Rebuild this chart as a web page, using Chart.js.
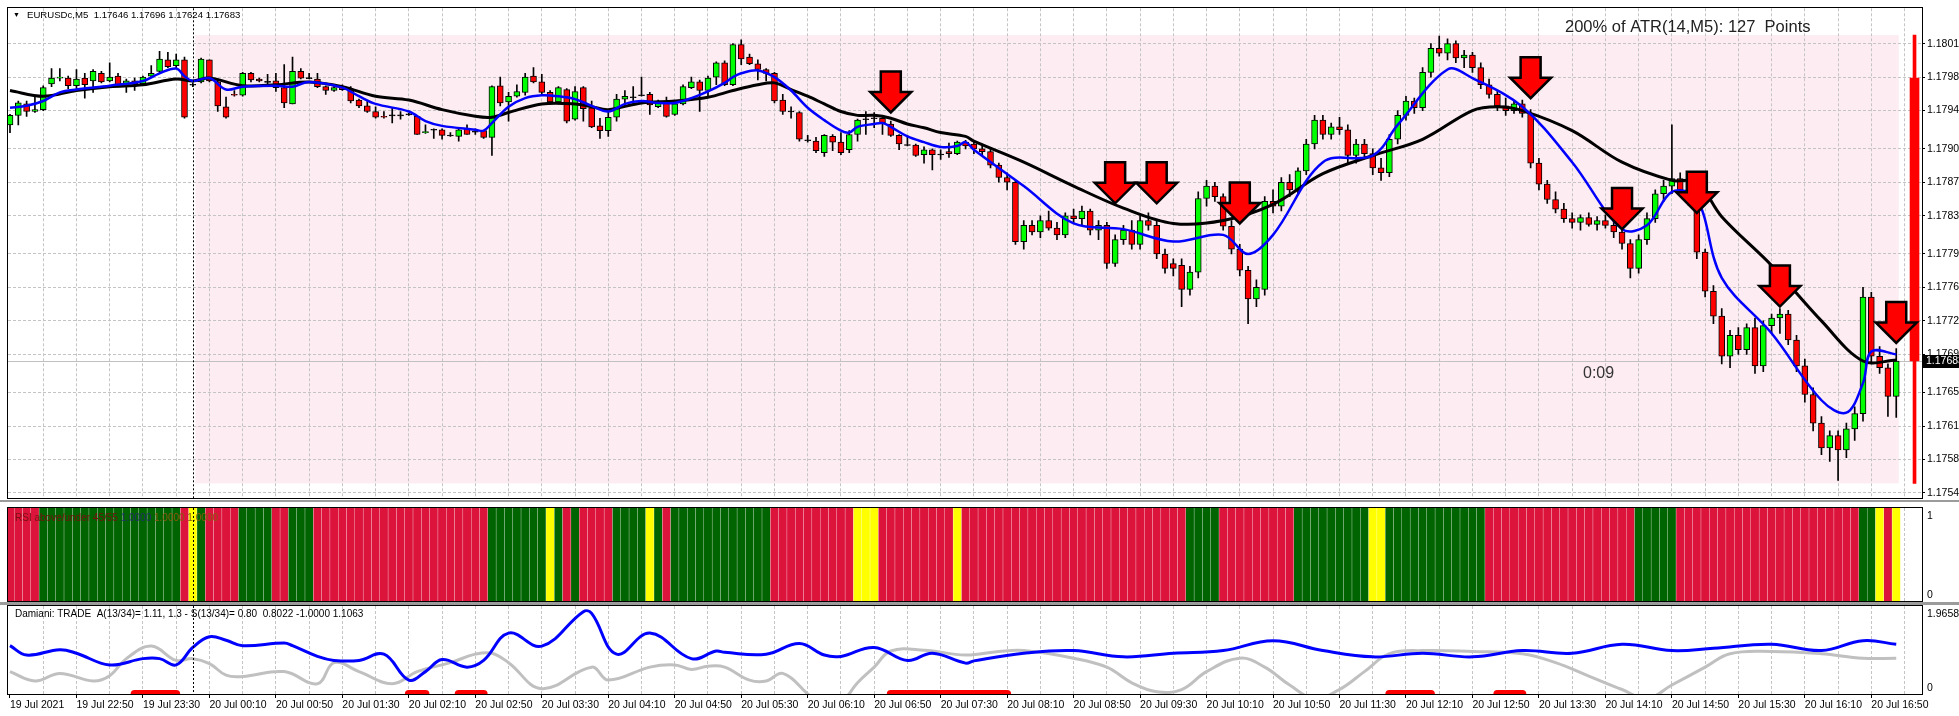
<!DOCTYPE html>
<html>
<head>
<meta charset="utf-8">
<script src="https://cdn.jsdelivr.net/npm/chart.js@4.4.1/dist/chart.umd.min.js"></script>
<style>
  html, body { margin: 0; padding: 0; background: #fff; overflow: hidden; }
  #wrap { position: relative; width: 1959px; height: 716px; }
  canvas { position: absolute; left: 0; }
  #main { top: 0; }
  #rsi { top: 507px; }
  #dam { top: 605px; }
</style>
</head>
<body>
<div id="wrap">
  <canvas id="main" width="1959" height="507"></canvas>
  <canvas id="rsi" width="1959" height="98"></canvas>
  <canvas id="dam" width="1959" height="111"></canvas>
</div>
<script>
// ============ EURUSDc M5 — candles, MAs, RSI zones, Damiani ============
// prices are in points (1 point = 0.00001)
const SYMBOL = 'EURUSDc,M5';
const PRICE_TICKS = [1.18015, 1.17980, 1.17945, 1.17905, 1.17870, 1.17835, 1.17795, 1.17760, 1.17725, 1.17690, 1.17650, 1.17615, 1.17580, 1.17545];
const TIME_LABELS = ['19 Jul 2021', '19 Jul 22:50', '19 Jul 23:30', '20 Jul 00:10', '20 Jul 00:50', '20 Jul 01:30', '20 Jul 02:10',
  '20 Jul 02:50', '20 Jul 03:30', '20 Jul 04:10', '20 Jul 04:50', '20 Jul 05:30', '20 Jul 06:10', '20 Jul 06:50', '20 Jul 07:30',
  '20 Jul 08:10', '20 Jul 08:50', '20 Jul 09:30', '20 Jul 10:10', '20 Jul 10:50', '20 Jul 11:30', '20 Jul 12:10', '20 Jul 12:50',
  '20 Jul 13:30', '20 Jul 14:10', '20 Jul 14:50', '20 Jul 15:30', '20 Jul 16:10', '20 Jul 16:50'];

const opens = [
  117930,117940,117952,117944,117946,117973,117979,117979,117971,117979,
  117976,117984,117976,117981,117972,117976,117973,117981,117986,117998,
  117992,117998,117972,117975,117998,117975,117949,117962,117961,117984,
  117978,117975,117976,117969,117952,117986,117979,117978,117970,117966,
  117970,117967,117956,117950,117944,117939,117940,117940,117941,117939,
  117922,117925,117925,117919,117918,117926,117923,117924,117917,117971,
  117954,117960,117964,117981,117975,117964,117954,117967,117936,117969,
  117948,117929,117924,117938,117957,117959,117961,117962,117949,117953,
  117941,117952,117969,117975,117966,117980,117995,117972,118014,118001,
  117994,117988,117984,117956,117944,117943,117914,117913,117901,117918,
  117912,117904,117920,117936,117937,117937,117931,117919,117909,117909,
  117899,117904,117899,117902,117900,117912,117910,117905,117902,117888,
  117875,117870,117808,117825,117818,117830,117822,117815,117835,117832,
  117840,117820,117825,117785,117810,117820,117805,117830,117825,117795,
  117785,117783,117758,117776,117853,117866,117855,117824,117800,117778,
  117748,117758,117850,117845,117870,117862,117882,117910,117935,117920,
  117928,117925,117898,117910,117900,117885,117880,117915,117940,117955,
  117948,117985,118010,118005,118015,118000,118003,117990,117972,117962,
  117950,117945,117952,117942,117890,117868,117852,117842,117832,117828,
  117833,117826,117830,117825,117818,117806,117780,117810,117832,117858,
  117866,117874,117862,117850,117797,117756,117730,117688,117710,117695,
  117718,117678,117720,117728,117732,117705,117678,117648,117618,117592,
  117605,117590,117612,117628,117750,117688,117676,117646];
const highs = [
  117941,117955,117955,117960,117971,117989,117989,117981,117988,117984,
  117988,117986,117995,117984,117978,117979,117981,117992,118007,118006,
  118004,118001,117974,118000,117998,117976,117959,117966,117985,117985,
  117979,117983,117984,117993,118001,117989,117984,117984,117971,117970,
  117972,117970,117957,117955,117949,117944,117948,117944,117942,117940,
  117930,117926,117926,117922,117926,117930,117926,117924,117971,117980,
  117964,117972,117984,117990,117983,117966,117970,117968,117970,117970,
  117955,117937,117944,117962,117966,117970,117980,117964,117956,117959,
  117955,117972,117980,117977,117981,117996,117997,118015,118019,118004,
  117998,117989,117985,117962,117949,117944,117919,117917,117920,117920,
  117922,117924,117936,117944,117943,117938,117934,117920,117919,117910,
  117907,117905,117904,117911,117913,117914,117912,117910,117905,117890,
  117880,117872,117830,117830,117835,117840,117828,117838,117842,117845,
  117842,117830,117828,117815,117825,117830,117835,117838,117830,117800,
  117790,117790,117782,117860,117872,117870,117858,117830,117805,117782,
  117768,117855,117862,117875,117878,117885,117915,117940,117940,117932,
  117938,117930,117915,117915,117905,117895,117920,117945,117960,117958,
  117990,118015,118023,118020,118018,118008,118006,117995,117978,117966,
  117958,117955,117956,117946,117895,117872,117860,117848,117838,117836,
  117838,117834,117836,117830,117822,117810,117815,117838,117862,117872,
  117930,117880,117868,117855,117800,117762,117738,117715,117718,117722,
  117728,117725,117732,117738,117736,117710,117685,117655,117625,117610,
  117610,117618,117635,117760,117755,117698,117680,117696];
const lows = [
  117922,117930,117939,117943,117945,117970,117976,117968,117968,117958,
  117964,117974,117975,117971,117964,117966,117971,117980,117984,117990,
  117989,117937,117970,117974,117975,117944,117937,117960,117960,117975,
  117975,117972,117965,117948,117952,117978,117978,117969,117962,117965,
  117966,117953,117948,117943,117937,117937,117932,117936,117940,117920,
  117921,117916,117915,117918,117913,117920,117920,117916,117898,117950,
  117934,117959,117961,117974,117962,117952,117952,117932,117935,117934,
  117927,117916,117918,117934,117950,117952,117960,117941,117948,117938,
  117940,117951,117968,117944,117959,117972,117971,117971,117993,117993,
  117977,117976,117953,117941,117937,117913,117912,117901,117897,117903,
  117899,117901,117913,117920,117927,117920,117918,117904,117908,117897,
  117890,117883,117894,117896,117899,117905,117900,117898,117885,117870,
  117862,117805,117800,117815,117812,117820,117810,117812,117828,117825,
  117815,117810,117780,117782,117805,117800,117800,117820,117790,117775,
  117772,117740,117752,117770,117845,117850,117820,117795,117772,117722,
  117740,117752,117838,117840,117855,117858,117878,117905,117915,117915,
  117920,117890,117890,117895,117878,117872,117876,117910,117935,117942,
  117945,117980,118002,117998,117995,117990,117985,117968,117958,117945,
  117940,117942,117938,117885,117862,117848,117838,117828,117822,117820,
  117824,117820,117822,117812,117800,117770,117775,117805,117828,117850,
  117858,117858,117846,117790,117750,117722,117680,117676,117690,117690,
  117670,117672,117712,117712,117700,117672,117640,117610,117585,117578,
  117558,117582,117600,117620,117680,117670,117625,117624];
const closes = [
  117940,117953,117944,117946,117969,117979,117980,117971,117978,117972,
  117986,117975,117980,117972,117976,117973,117980,117984,117999,117991,
  117998,117938,117972,117999,117976,117950,117938,117961,117984,117977,
  117976,117975,117969,117953,117986,117979,117979,117970,117966,117969,
  117967,117955,117950,117944,117938,117938,117940,117940,117941,117920,
  117923,117925,117919,117919,117925,117920,117923,117917,117970,117953,
  117960,117965,117980,117975,117964,117954,117969,117934,117965,117947,
  117928,117924,117938,117957,117960,117959,117961,117951,117955,117939,
  117952,117970,117975,117966,117979,117995,117972,118014,117999,117994,
  117988,117984,117955,117944,117944,117915,117914,117903,117919,117912,
  117901,117920,117935,117936,117937,117932,117919,117910,117909,117898,
  117904,117899,117899,117900,117912,117908,117905,117902,117888,117875,
  117870,117808,117825,117818,117830,117822,117815,117835,117832,117840,
  117820,117825,117785,117810,117820,117805,117830,117825,117795,117780,
  117780,117758,117776,117853,117866,117855,117824,117800,117778,117748,
  117760,117850,117845,117870,117862,117882,117910,117935,117920,117928,
  117925,117898,117910,117900,117885,117880,117915,117940,117955,117948,
  117985,118010,118005,118015,118000,118003,117990,117972,117962,117950,
  117945,117952,117942,117890,117868,117852,117842,117832,117828,117833,
  117826,117830,117825,117818,117806,117780,117810,117832,117858,117866,
  117874,117862,117850,117797,117756,117730,117688,117710,117695,117718,
  117678,117720,117728,117732,117705,117678,117648,117618,117592,117605,
  117590,117612,117628,117750,117688,117676,117646,117683];

// moving averages (bar index -> price in points)
const slowMaBars = [0,4,8,12,16,20,22,24,28,32,36,40,44,48,52,56,58,60,64,68,70,72,76,80,84,87,90,92,94,96,98,100,102,104,106,108,110,112,115,
  116,122,128,134,140,146,152,158,164,170,176,179,182,188,194,200,203,206,212,218,223,227];
const slowMa = [117966,117960,117966,117970,117972,117978,117976,117979,117971,117972,117975,117970,117960,117956,117946,117939,117938,117943,117952,117952,117949,117946,117953,117955,117959,117966,117972,117974,117967,117960,117952,117944,117940,117940,117937,117931,117927,117922,117918,
  117913,117891,117866,117843,117827,117830,117847,117879,117898,117915,117945,117949,117945,117924,117891,117872,117870,117834,117783,117725,117683,117684];
const fastMaBars = [0,2,4,6,8,12,16,18,20,21,22,24,26,28,32,34,36,40,42,44,48,50,52,56,57,58,60,62,64,66,68,70,72,74,76,78,80,82,84,86,87,88,90,92,94,96,98,100,101,102,104,105,106,108,110,112,114,115,
  116,122,128,134,140,146,149,152,158,164,167,173,176,182,188,194,197,200,203,206,212,218,221,223,224,227];
const fastMa = [117948,117950,117955,117964,117967,117971,117976,117984,117989,117981,117976,117979,117967,117970,117971,117970,117975,117969,117960,117952,117944,117934,117929,117925,117924,117932,117949,117958,117961,117960,117957,117950,117944,117952,117955,117953,117953,117958,117965,117974,117980,117984,117987,117980,117966,117948,117935,117924,117922,117928,117931,117932,117928,117918,117912,117907,117908,117912,
  117904,117866,117827,117821,117808,117815,117795,117815,117891,117898,117930,117988,117979,117949,117891,117821,117825,117860,117853,117770,117712,117642,117629,117660,117693,117690];

// sell arrows: bar index and tip price
const arrowBars = [106, 133, 138, 148, 183, 194, 203, 213, 227];
const arrowTips = [1.17943, 1.17848, 1.17848, 1.17827, 1.17958, 1.17821, 1.17838, 1.17740, 1.17702];

// ATR box / range bar
const ATR_TEXT = '200% of ATR(14,M5): 127  Points';
const ATR_HIGH = 1.18024, ATR_LOW = 1.17555;
const ATR_BODY_HIGH = 1.17979, ATR_BODY_LOW = 1.17683;
const BOX_FROM = 22.3, BOX_TO = 227.3, ATR_BAR = 229.2;
const DAY_START_BAR = 22;
const TIMER_TEXT = '0:09';

// RSI above/under 45/55 zones per bar: R = under, G = above, Y = neutral
const rsiZones = ('RRRRGGGGGG' + 'GGGGGGGGGG' + 'GRYGRRRRGG' + 'GGRRGGGRRR' + 'RRRRRRRRRR' +
  'RRRRRRRRGG' + 'GGGGGYGRGR' + 'RRRGGGGYGR' + 'GGGGGGGGGG' + 'GGRRRRRRRR' +
  'RRYYYRRRRR' + 'RRRRYRRRRR' + 'RRRRRRRRRR' + 'RRRRRRRRRR' + 'RRGGGGRRRR' +
  'RRRRRGGGGG' + 'GGGGYYGGGG' + 'GGGGGGGGRR' + 'RRRRRRRRRR' + 'RRRRRRGGGG' +
  'GRRRRRRRRR' + 'RRRRRRRRRR' + 'RRRGGYRY').split('');

// Damiani volatmeter lines (bar index -> value)
const damBlueBars = [0,2,6,8,12,16,18,20,22,24,26,28,33,34,37,39,42,45,48,50,52,55,57,60,64,69,70,73,77,82,85,86,91,95,98,100,104,108,111,115,
  116,122,128,134,140,146,152,158,164,170,176,182,188,194,200,205,212,218,223,227];
const damBlue = [1.08,0.87,0.99,0.91,0.65,0.79,0.79,0.65,1.04,1.28,1.20,1.08,1.14,1.08,0.84,0.75,0.75,0.89,0.31,0.50,0.77,0.60,0.75,1.36,1.07,1.84,1.80,0.89,1.36,0.79,0.96,0.93,0.89,1.13,0.87,0.84,1.04,0.75,0.91,0.69,
  0.74,0.91,0.97,0.83,0.91,0.97,1.19,0.97,0.83,0.91,0.83,0.97,0.91,1.11,0.97,1.02,1.11,0.97,1.19,1.11];
const damGreyBars = [0,3,6,10,12,14,17,20,22,24,26,28,33,37,39,42,46,49,53,56,58,60,64,70,72,77,80,82,84,86,89,91,93,96,98,100,102,104,106,110,115,
  119,122,128,132,135,138,141,144,148,151,154,157,160,163,166,170,176,182,186,190,194,197,200,204,207,212,218,223,227];
const damGrey = [0.50,0.29,0.46,0.29,0.41,0.79,1.07,0.75,0.79,0.68,0.42,0.39,0.50,0.23,0.70,0.50,0.23,0.50,0.70,0.89,0.91,0.70,0.12,0.60,0.31,0.60,0.65,0.55,0.62,0.60,0.31,0.29,0.46,0.00,-0.35,-0.20,0.25,0.60,0.96,0.98,0.87,
  0.95,0.97,0.80,0.60,0.25,0.05,0.10,0.50,0.80,0.60,0.20,-0.10,0.10,0.50,0.90,0.97,0.95,0.90,0.70,0.40,0.10,-0.10,0.20,0.60,0.90,0.95,0.90,0.80,0.80];
const damMax = 1.9658;
const signalFrom = [15, 48, 54, 106, 166, 179];
const signalTo = [20, 50, 57, 120, 171, 182];

// ---------------------------------------------------------------------
const FONT = 'Liberation Sans';
const GRID = '#c4c4c4';
const X_MIN = -0.24, X_MAX = 230.1;
const toPrice = p => p / 100000;
const bars = opens.map((_, i) => i);
const last = opens.length - 1;

const zoneColor = { R: '#dc143c', G: '#006400', Y: '#ffff00' };

function gridTicks(scale) {
  const t = [];
  for (let v = 0; v <= X_MAX; v += 4) t.push({ value: v });
  scale.ticks = t;
}
const gridColor = c => (c.tick && c.tick.value === 0 ? 'rgba(0,0,0,0)' : GRID);

function hiddenX() {
  return {
    type: 'linear', min: X_MIN, max: X_MAX, offset: false,
    afterBuildTicks: gridTicks,
    ticks: { display: false },
    grid: { color: gridColor, drawTicks: false, offset: false },
    border: { display: false, dash: [3, 2] },
    afterFit: s => { s.height = 0; }
  };
}

const framePlugin = {
  id: 'frame',
  afterDraw(chart, args, opts) {
    const { ctx, chartArea: a } = chart;
    ctx.save();
    if (opts.sep) {
      ctx.fillStyle = '#9b9b9b';
      ctx.fillRect(0, Math.round(a.bottom) + 1, chart.width, opts.sep);
    }
    ctx.strokeStyle = '#000';
    ctx.lineWidth = 1;
    ctx.strokeRect(Math.round(a.left) - 0.5, Math.round(a.top) - 0.5,
      Math.round(a.right - a.left) + 1, Math.round(a.bottom - a.top) + 1);
    ctx.restore();
  }
};

const daySepPlugin = {
  id: 'daySep',
  afterDatasetsDraw(chart) {
    const { ctx, chartArea: a } = chart;
    const x = Math.round(chart.scales.x.getPixelForValue(DAY_START_BAR)) + 0.5;
    ctx.save();
    ctx.strokeStyle = '#000';
    ctx.lineWidth = 1;
    ctx.setLineDash([2, 2]);
    ctx.beginPath();
    ctx.moveTo(x, a.top);
    ctx.lineTo(x, a.bottom);
    ctx.stroke();
    ctx.restore();
  }
};

const sideLabelPlugin = {
  id: 'sideLabels',
  afterDraw(chart, args, opts) {
    const { ctx, chartArea: a } = chart;
    ctx.save();
    ctx.font = '10.5px ' + FONT;
    ctx.fillStyle = '#000';
    ctx.textBaseline = 'middle';
    ctx.fillText(opts.top, a.right + 5, a.top + 8);
    ctx.fillText(opts.bottom, a.right + 5, a.bottom - 6);
    // panel caption
    let x = a.left + 7;
    opts.caption.forEach(([txt, col]) => {
      ctx.font = opts.captionFont;
      ctx.fillStyle = col;
      ctx.fillText(txt, x, a.top + opts.captionY);
      x += ctx.measureText(txt).width;
    });
    ctx.restore();
  }
};

// ============ MAIN PRICE PANEL ============
const wickData = bars.map(i => ({ x: i, y: [toPrice(lows[i]), toPrice(highs[i])] }));
const bodyData = bars.map(i => {
  let a = Math.min(opens[i], closes[i]), b = Math.max(opens[i], closes[i]);
  if (b - a < 1) { a -= 0.5; b += 0.5; }
  return { x: i, y: [toPrice(a), toPrice(b)] };
});
const bodyColors = bars.map(i => closes[i] > opens[i] ? '#00ff00' : closes[i] < opens[i] ? '#ff0000' : '#000');

const mainOverlay = {
  id: 'mainOverlay',
  beforeDraw(chart) {
    const { ctx } = chart;
    const xs = chart.scales.x, ys = chart.scales.y;
    ctx.save();
    ctx.fillStyle = '#fdedf2';
    const x1 = xs.getPixelForValue(BOX_FROM), x2 = xs.getPixelForValue(BOX_TO);
    const y1 = ys.getPixelForValue(ATR_HIGH), y2 = ys.getPixelForValue(ATR_LOW);
    ctx.fillRect(x1, y1, x2 - x1, y2 - y1);
    ctx.restore();
  },
  beforeDatasetsDraw(chart) {
    const { ctx, chartArea: a } = chart;
    const y = Math.round(chart.scales.y.getPixelForValue(toPrice(closes[last]))) + 0.5;
    ctx.save();
    ctx.strokeStyle = '#c0c0c0';
    ctx.lineWidth = 1;
    ctx.beginPath();
    ctx.moveTo(a.left, y);
    ctx.lineTo(a.right, y);
    ctx.stroke();
    ctx.restore();
  },
  afterDatasetsDraw(chart) {
    const { ctx } = chart;
    const xs = chart.scales.x, ys = chart.scales.y;
    ctx.save();
    arrowBars.forEach((b, k) => {
      const x = xs.getPixelForValue(b), yt = ys.getPixelForValue(arrowTips[k]);
      const hw = 20.5, sw = 10, hh = 20.5, sh = 20.5;
      ctx.beginPath();
      ctx.moveTo(x - sw, yt - hh - sh);
      ctx.lineTo(x + sw, yt - hh - sh);
      ctx.lineTo(x + sw, yt - hh);
      ctx.lineTo(x + hw, yt - hh);
      ctx.lineTo(x, yt);
      ctx.lineTo(x - hw, yt - hh);
      ctx.lineTo(x - sw, yt - hh);
      ctx.closePath();
      ctx.fillStyle = '#ff0000';
      ctx.fill();
      ctx.lineWidth = 2.5;
      ctx.lineJoin = 'miter';
      ctx.strokeStyle = '#000';
      ctx.stroke();
    });
    ctx.restore();
  },
  afterDraw(chart) {
    const { ctx, chartArea: a } = chart;
    const ys = chart.scales.y;
    ctx.save();
    // header line
    ctx.fillStyle = '#000';
    ctx.textBaseline = 'middle';
    ctx.font = '7px ' + FONT;
    ctx.fillText('\u25BC', a.left + 5, 15);
    ctx.font = '9.6px ' + FONT;
    const ohlc = [opens[last], highs[last], lows[last], closes[last]].map(v => toPrice(v).toFixed(5)).join(' ');
    ctx.fillText(SYMBOL + '  ' + ohlc, a.left + 19, 15);
    // ATR text
    ctx.font = '16.5px ' + FONT;
    ctx.fillStyle = '#222';
    ctx.fillText(ATR_TEXT, 1565, 27);
    // candle timer
    ctx.font = '16px ' + FONT;
    ctx.fillStyle = '#333';
    ctx.fillText(TIMER_TEXT, 1583, 374);
    // bid label box
    const y = Math.round(ys.getPixelForValue(toPrice(closes[last])));
    ctx.fillStyle = '#000';
    ctx.fillRect(a.right + 1, y - 6, chart.width - a.right, 13);
    ctx.fillStyle = '#fff';
    ctx.font = '10.5px ' + FONT;
    ctx.fillText(toPrice(closes[last]).toFixed(5), a.right + 4, y + 0.5);
    ctx.restore();
  }
};

new Chart(document.getElementById('main'), {
  type: 'bar',
  data: {
    datasets: [
      { type: 'line', data: fastMaBars.map((b, k) => ({ x: b, y: toPrice(fastMa[k]) })),
        borderColor: '#0000ff', borderWidth: 2.5, pointRadius: 0, tension: 0.35, order: 0 },
      { type: 'line', data: slowMaBars.map((b, k) => ({ x: b, y: toPrice(slowMa[k]) })),
        borderColor: '#000', borderWidth: 3, pointRadius: 0, tension: 0.35, order: 1 },
      { data: bodyData, backgroundColor: bodyColors, borderColor: '#000', borderWidth: 1, borderSkipped: false,
        barThickness: 6, grouped: false, order: 2 },
      { data: wickData, backgroundColor: '#000', barThickness: 1, grouped: false, order: 3 },
      { data: [{ x: ATR_BAR, y: [ATR_BODY_LOW, ATR_BODY_HIGH] }], backgroundColor: '#ff0000', barThickness: 9, grouped: false, order: 4 },
      { data: [{ x: ATR_BAR, y: [ATR_LOW, ATR_HIGH] }], backgroundColor: '#ff0000', barThickness: 3, grouped: false, order: 5 }
    ]
  },
  options: {
    responsive: false, animation: false, events: [],
    layout: { padding: { left: 8, top: 6, right: 0, bottom: 2 } },
    plugins: { legend: { display: false }, tooltip: { enabled: false }, frame: { sep: 2 } },
    scales: {
      x: hiddenX(),
      y: {
        position: 'right', min: 1.17539, max: 1.18052,
        afterBuildTicks: s => { s.ticks = PRICE_TICKS.map(v => ({ value: v })); },
        ticks: { callback: v => v.toFixed(5), padding: 2, color: '#000', font: { family: FONT, size: 10.5 }, autoSkip: false },
        grid: { color: GRID, tickLength: 3, tickColor: '#000' },
        border: { display: false, dash: [3, 2] },
        afterFit: s => { s.width = 37; }
      }
    }
  },
  plugins: [mainOverlay, daySepPlugin, framePlugin]
});

// ============ RSI ZONE PANEL ============
new Chart(document.getElementById('rsi'), {
  type: 'bar',
  data: {
    datasets: [{
      data: bars.map(i => ({ x: i, y: [0, 1] })),
      backgroundColor: rsiZones.map(z => zoneColor[z]),
      barThickness: 7.3, grouped: false
    }]
  },
  options: {
    responsive: false, animation: false, events: [],
    layout: { padding: { left: 8, top: 1, right: 0, bottom: 4 } },
    plugins: {
      legend: { display: false }, tooltip: { enabled: false },
      frame: { sep: 3 },
      sideLabels: {
        top: '1', bottom: '0', captionY: 10, captionFont: '10px ' + FONT,
        caption: [['RSI above/under 45/55 ', '#7a1010'], ['1.0000 ', '#25306a'], ['1.0000 ', '#8a5a10'], ['1.0000', '#8a5a10']]
      }
    },
    scales: {
      x: hiddenX(),
      y: {
        position: 'right', min: 0, max: 1,
        ticks: { display: false }, grid: { display: false }, border: { display: false },
        afterFit: s => { s.width = 37; }
      }
    }
  },
  plugins: [daySepPlugin, framePlugin, sideLabelPlugin]
});

// ============ DAMIANI PANEL ============
const signalData = [];
signalFrom.forEach((s, k) => {
  signalData.push({ x: s, y: 0 }, { x: signalTo[k], y: 0 }, { x: signalTo[k] + 0.5, y: null });
});

new Chart(document.getElementById('dam'), {
  type: 'line',
  data: {
    datasets: [
      { data: damBlueBars.map((b, k) => ({ x: b, y: damBlue[k] })), borderColor: '#0000ff', borderWidth: 3,
        pointRadius: 0, tension: 0.4, order: 0 },
      { data: damGreyBars.map((b, k) => ({ x: b, y: damGrey[k] })), borderColor: '#c0c0c0', borderWidth: 3,
        pointRadius: 0, tension: 0.4, order: 1 },
      { data: signalData, borderColor: '#ff0000', borderWidth: 8, borderCapStyle: 'round', pointRadius: 0,
        spanGaps: false, order: 2 }
    ]
  },
  options: {
    responsive: false, animation: false, events: [],
    layout: { padding: { left: 8, top: 1, right: 0, bottom: 0 } },
    plugins: {
      legend: { display: false }, tooltip: { enabled: false },
      sideLabels: {
        top: '1.9658', bottom: '0', captionY: 8, captionFont: '10px ' + FONT,
        caption: [['Damiani: TRADE  A(13/34)= 1.11, 1.3 - S(13/34)= 0.80  0.8022 -1.0000 1.1063', '#000']]
      }
    },
    scales: {
      x: {
        type: 'linear', min: X_MIN, max: X_MAX, offset: false,
        afterBuildTicks: gridTicks,
        ticks: {
          autoSkip: false, maxRotation: 0, align: 'start', padding: 1, color: '#000',
          font: { family: FONT, size: 10.5 },
          callback: v => (v % 8 === 0 ? TIME_LABELS[v / 8] : '')
        },
        grid: { color: gridColor, tickLength: 4, tickColor: c => (c.tick && c.tick.value % 8 === 0 ? '#000' : 'rgba(0,0,0,0)') },
        border: { display: false, dash: [3, 2] },
        afterFit: s => { s.height = 22; }
      },
      y: {
        position: 'right', min: 0, max: damMax,
        ticks: { display: false }, grid: { display: false }, border: { display: false },
        afterFit: s => { s.width = 37; }
      }
    }
  },
  plugins: [daySepPlugin, framePlugin, sideLabelPlugin]
});
</script>
</body>
</html>
